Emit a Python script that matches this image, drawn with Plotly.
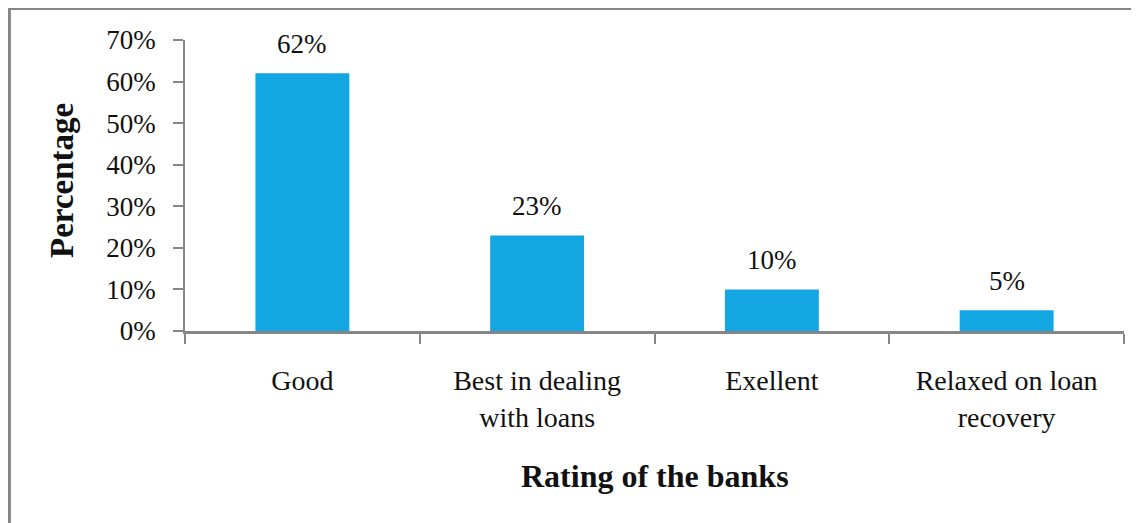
import plotly.graph_objects as go

categories = ["Good", "Best in dealing<br>with loans", "Exellent", "Relaxed on loan<br>recovery"]
values = [0.62, 0.23, 0.10, 0.05]
value_labels = ["62%", "23%", "10%", "5%"]
y_title = "Percentage"
x_title = "Rating of the banks"

FONT = "Liberation Serif, Times New Roman, serif"
AXIS = "#868686"
TXT = "#111111"

fig = go.Figure()
fig.add_trace(go.Bar(
    x=categories, y=values,
    marker=dict(color="#14a6e2", line=dict(width=0)),
    hoverinfo="skip",
))

for c, v, t in zip(categories, values, value_labels):
    fig.add_annotation(x=c, y=v, text=t, showarrow=False, yshift=29,
                       yanchor="middle", font=dict(family=FONT, size=27, color=TXT))

fig.add_annotation(xref="paper", yref="paper", x=0.5, y=-0.498, text=x_title,
                   showarrow=False, yanchor="middle", xanchor="center",
                   font=dict(family=FONT, size=32, color=TXT, weight="bold"))
fig.add_annotation(xref="paper", yref="paper", x=-0.131, y=0.519, text=y_title,
                   showarrow=False, textangle=-90, yanchor="middle", xanchor="center",
                   font=dict(family=FONT, size=33, color=TXT, weight="bold"))

# outer frame (left and top edges)
fig.add_shape(type="line", xref="paper", yref="paper", x0=-0.187, x1=-0.187, y0=1.107, y1=-0.75,
              line=dict(color=AXIS, width=3))
fig.add_shape(type="line", xref="paper", yref="paper", x0=-0.19, x1=1.05, y0=1.107, y1=1.107,
              line=dict(color=AXIS, width=2.5))

fig.update_layout(
    width=1131, height=515,
    margin=dict(l=177, r=15, t=32, b=192),
    paper_bgcolor="white", plot_bgcolor="white",
    bargap=0.6, showlegend=False,
    font=dict(family=FONT, color=TXT),
)
fig.update_xaxes(
    showline=True, linecolor=AXIS, linewidth=2.5,
    ticks="outside", tickson="boundaries", ticklen=10, tickcolor=AXIS, tickwidth=1.5,
    tickfont=dict(family=FONT, size=28, color=TXT),
    ticklabelstandoff=23, showgrid=False, zeroline=False,
)
fig.update_yaxes(
    range=[0, 0.7], dtick=0.1, tickformat=".0%",
    showline=True, linecolor=AXIS, linewidth=1.5,
    ticks="outside", ticklen=10, tickcolor=AXIS, tickwidth=1.5,
    tickfont=dict(family=FONT, size=27, color=TXT),
    ticklabelstandoff=12, showgrid=False, zeroline=False,
)

fig.write_html("out.html")
